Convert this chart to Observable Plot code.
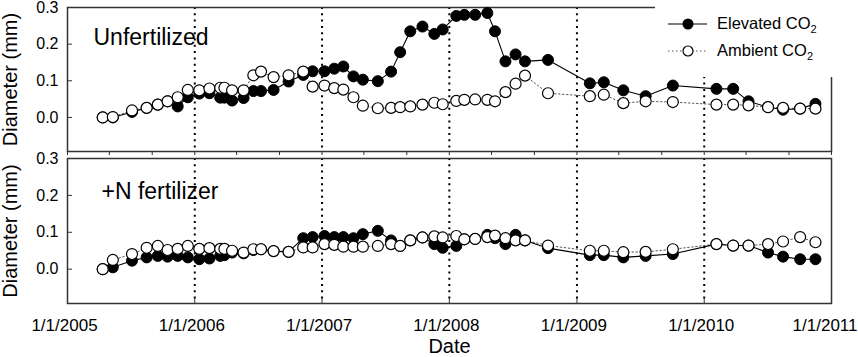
<!DOCTYPE html>
<html>
<head>
<meta charset="utf-8">
<script src="https://cdn.jsdelivr.net/npm/d3@7"></script>
<script src="https://cdn.jsdelivr.net/npm/@observablehq/plot@0.6"></script>
<style>
  body { margin: 0; background: white; }
  #wrap { position: relative; width: 858px; height: 357px; overflow: hidden; font-family: "Liberation Sans", Arial, sans-serif; }
  #wrap svg.plot { display: block; }
  #legend { position: absolute; left: 655px; top: 0px; width: 203px; height: 77px; background: white; }
</style>
</head>
<body>
<div id="wrap"></div>
<script>
// ---- data ----
const dates = [
  "2005-04-12","2005-05-11","2005-07-05","2005-08-16","2005-09-17","2005-10-15","2005-11-13","2005-12-12",
  "2006-01-14","2006-02-12","2006-03-15","2006-03-27","2006-04-18","2006-05-21","2006-06-18","2006-07-10",
  "2006-08-15","2006-09-27","2006-11-08","2006-12-05","2007-01-08","2007-02-05","2007-03-03","2007-04-01",
  "2007-04-28","2007-06-10","2007-07-18","2007-08-13","2007-09-11","2007-10-16","2007-11-19","2007-12-13",
  "2008-01-21","2008-02-13","2008-03-15","2008-04-19","2008-05-11","2008-06-10","2008-07-09","2008-08-05",
  "2008-10-10","2009-02-07","2009-03-19","2009-05-14","2009-07-17","2009-10-03","2010-02-05","2010-03-25",
  "2010-05-08","2010-07-03","2010-08-15","2010-10-03","2010-11-16"
];
const elevatedUnfertilized = [
  0.0, 0.0, 0.015, 0.026, 0.035, 0.044, 0.03, 0.055,
  0.065, 0.066, 0.054, 0.054, 0.046, 0.053, 0.072, 0.072,
  0.075, 0.098, 0.116, 0.126, 0.126, 0.133, 0.139, 0.112,
  0.103, 0.099, 0.125, 0.178, 0.235, 0.248, 0.228, 0.24,
  0.277, 0.28, 0.28, 0.285, 0.235, 0.153, 0.172, 0.153,
  0.157, 0.093, 0.096, 0.074, 0.058, 0.087, 0.078, 0.078,
  0.044, 0.028, 0.021, 0.024, 0.037
];
const ambientUnfertilized = [
  0.0, 0.001, 0.019, 0.026, 0.035, 0.044, 0.055, 0.075,
  0.074, 0.079, 0.081, 0.081, 0.074, 0.074, 0.115, 0.125,
  0.11, 0.115, 0.125, 0.084, 0.087, 0.08, 0.076, 0.055,
  0.032, 0.025, 0.026, 0.028, 0.03, 0.035, 0.04, 0.036,
  0.045, 0.048, 0.049, 0.048, 0.044, 0.069, 0.092, 0.114,
  0.066, 0.058, 0.062, 0.039, 0.044, 0.042, 0.035, 0.035,
  0.033, 0.028, 0.026, 0.024, 0.024
];
const elevatedFertilized = [
  0.0, 0.005, 0.023, 0.032, 0.036, 0.034, 0.036, 0.032,
  0.027, 0.029, 0.036, 0.038, 0.045, 0.043, 0.052, 0.054,
  0.049, 0.047, 0.084, 0.087, 0.09, 0.087, 0.087, 0.084,
  0.095, 0.104, 0.078, 0.063, 0.078, 0.086, 0.068, 0.058,
  0.063, 0.081, 0.082, 0.093, 0.084, 0.068, 0.093, 0.078,
  0.057, 0.038, 0.038, 0.032, 0.036, 0.041, 0.068, 0.064,
  0.064, 0.045, 0.034, 0.027, 0.027
];
const ambientFertilized = [
  0.0, 0.025, 0.041, 0.058, 0.063, 0.052, 0.055, 0.063,
  0.055, 0.057, 0.055, 0.055, 0.05, 0.045, 0.054, 0.054,
  0.049, 0.047, 0.059, 0.059, 0.068, 0.066, 0.061, 0.061,
  0.061, 0.063, 0.068, 0.063, 0.078, 0.086, 0.089, 0.086,
  0.09, 0.081, 0.082, 0.087, 0.091, 0.084, 0.078, 0.078,
  0.064, 0.05, 0.05, 0.046, 0.047, 0.054, 0.068, 0.064,
  0.064, 0.068, 0.075, 0.087, 0.073
];
const panelLabels = ["Unfertilized", "+N fertilizer"];
const seriesNames = ["Elevated CO", "Ambient CO"];
const yTicks = [0.0, 0.1, 0.2, 0.3];
const yTickLabels = ["0.0", "0.1", "0.2", "0.3"];
const xTickYears = ["2005-01-01","2006-01-01","2007-01-01","2008-01-01","2009-01-01","2010-01-01","2011-01-01"];
const xTickLabels = ["1/1/2005","1/1/2006","1/1/2007","1/1/2008","1/1/2009","1/1/2010","1/1/2011"];
const yearDividers = ["2006-01-01","2007-01-01","2008-01-01","2009-01-01","2010-01-01"];
const yTitle = "Diameter (mm)";
const xTitle = "Date";

// ---- build ----
const FONT = '"Liberation Sans", Arial, sans-serif';
const xDomain = [new Date(xTickYears[0]), new Date(xTickYears[xTickYears.length - 1])];
const yearDates = xTickYears.map(d => new Date(d));
const dividerDates = yearDividers.map(d => new Date(d));
const minorTicks = d3.utcMonth.every(4).range(xDomain[0], new Date(+xDomain[1] + 1));
const yLabelOf = new Map(yTicks.map((v, i) => [v, yTickLabels[i]]));
const xLabelRows = yearDates.map((d, i) => ({date: d, label: xTickLabels[i]}));
const lastIdx = xLabelRows.length - 1;

const rowsU = dates.map((d, i) => ({date: new Date(d), elev: elevatedUnfertilized[i], amb: ambientUnfertilized[i]}));
const rowsF = dates.map((d, i) => ({date: new Date(d), elev: elevatedFertilized[i], amb: ambientFertilized[i]}));

function seriesMarks(rows) {
  return [
    Plot.line(rows, {x: "date", y: "amb", stroke: "#555", strokeWidth: 1, strokeDasharray: "1.5,2.5"}),
    Plot.line(rows, {x: "date", y: "elev", stroke: "black", strokeWidth: 1.1}),
    Plot.dot(rows, {x: "date", y: "elev", r: 5.5, fill: "black", stroke: "black", strokeWidth: 1}),
    Plot.dot(rows, {x: "date", y: "amb", r: 5.5, fill: "white", stroke: "black", strokeWidth: 1.2})
  ];
}

function common(extra) {
  return {
    width: 858,
    marginLeft: 67,
    marginRight: 27,
    x: {type: "utc", domain: xDomain},
    y: {domain: [-0.093, 0.3]},
    style: {fontFamily: FONT, fontSize: "16px", color: "black", background: "white", overflow: "visible"},
    ...extra
  };
}

const yAxis = Plot.axisY({ticks: yTicks, tickSize: -5, tickPadding: 14, tickFormat: v => yLabelOf.get(v) ?? v, label: null, fontSize: 16, stroke: "#333"});
const yTitleMark = Plot.text([yTitle], {frameAnchor: "left", textAnchor: "middle", dx: -57, rotate: -90, fontSize: 20, fill: "black"});

const topPlot = Plot.plot(common({
  height: 155,
  marginTop: 7,
  marginBottom: 4,
  marks: [
    Plot.ruleX(dividerDates, {stroke: "black", strokeWidth: 2, strokeDasharray: "2,4.3"}),
    Plot.frame({stroke: "#333", strokeWidth: 1.5}),
    yAxis,
    Plot.axisX({ticks: minorTicks, tickSize: 4, tickFormat: () => "", label: null, stroke: "#333"}),
    yTitleMark,
    Plot.text([panelLabels[0]], {frameAnchor: "top-left", textAnchor: "start", lineAnchor: "top", dx: 26, dy: 21, fontSize: 23, fill: "black"}),
    ...seriesMarks(rowsU)
  ]
}));

const bottomPlot = Plot.plot(common({
  height: 202,
  marginTop: 3,
  marginBottom: 54,
  marks: [
    Plot.ruleX(dividerDates, {stroke: "black", strokeWidth: 2, strokeDasharray: "2,4.3"}),
    Plot.frame({stroke: "#333", strokeWidth: 1.5}),
    yAxis,
    Plot.axisX({ticks: yearDates, tickSize: -5, tickFormat: () => "", label: null, stroke: "#333"}),
    // year tick labels (last one kept inside the picture)
    Plot.text(xLabelRows.slice(0, lastIdx), {x: "date", text: "label", frameAnchor: "bottom", lineAnchor: "top", dy: 15, dx: -3, fontSize: 17, fill: "black"}),
    Plot.text(xLabelRows.slice(lastIdx), {x: "date", text: "label", frameAnchor: "bottom", textAnchor: "end", lineAnchor: "top", dy: 15, dx: 26, fontSize: 17, fill: "black"}),
    yTitleMark,
    Plot.text([xTitle], {frameAnchor: "bottom", lineAnchor: "top", dy: 35, fontSize: 20, fill: "black"}),
    Plot.text([panelLabels[1]], {frameAnchor: "top-left", textAnchor: "start", lineAnchor: "top", dx: 34, dy: 24, fontSize: 23, fill: "black"}),
    ...seriesMarks(rowsF)
  ]
}));

const wrap = document.getElementById("wrap");
topPlot.classList.add("plot");
bottomPlot.classList.add("plot");
wrap.appendChild(topPlot);
wrap.appendChild(bottomPlot);

// legend (overlay box, white background)
const legend = document.createElement("div");
legend.id = "legend";
legend.innerHTML = `
<svg width="203" height="77" style="font-family:${FONT.replace(/"/g, "'")}">
  <line x1="13" x2="52" y1="24" y2="24" stroke="black" stroke-width="1.1"/>
  <circle cx="33" cy="24" r="5.5" fill="black"/>
  <text x="62" y="28.5" font-size="16.5">${seriesNames[0]}<tspan font-size="11" dy="4">2</tspan></text>
  <line x1="13" x2="52" y1="51" y2="51" stroke="#555" stroke-width="1" stroke-dasharray="1.5,2.5"/>
  <circle cx="33" cy="51" r="5" fill="white" stroke="black" stroke-width="1.2"/>
  <text x="62" y="55.5" font-size="16.5">${seriesNames[1]}<tspan font-size="11" dy="4">2</tspan></text>
</svg>`;
wrap.appendChild(legend);
</script>
</body>
</html>
